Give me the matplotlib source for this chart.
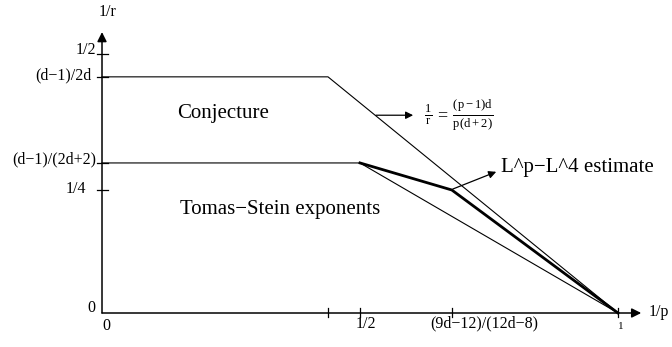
import matplotlib
matplotlib.use("Agg")
import matplotlib.pyplot as plt

plt.rcParams['font.family'] = ['Liberation Serif', 'DejaVu Serif']
plt.rcParams['mathtext.fontset'] = 'custom'
plt.rcParams['mathtext.rm'] = 'Liberation Serif'
plt.rcParams['mathtext.it'] = 'Liberation Serif'

# schematic positions (1/p on x, 1/r on y)
x_tick_pos = [0.438, 0.5, 0.678, 1.0]
x_tick_labels = ["", "1/2", "(9d−12)/(12d−8)", "1"]
y_tick_pos = [0.526, 0.480, 0.305, 0.25]
y_tick_labels = ["1/2", "(d−1)/2d", "(d−1)/(2d+2)", "1/4"]

conj_x = [0.0, 0.438, 1.0]
conj_y = [0.480, 0.480, 0.0]
ts_x = [0.0, 0.5, 1.0]
ts_y = [0.305, 0.305, 0.0]
est_x = [0.5, 0.678, 1.0]
est_y = [0.305, 0.25, 0.0]

fig = plt.figure(figsize=(6.72, 3.47), dpi=100)
ax = fig.add_axes([0, 0, 1, 1])
ax.set_xlim(-0.1977, 1.1047)
ax.set_ylim(-0.0691, 0.6362)
ax.axis('off')

k = 'black'
# axes with arrows
ax.annotate("", xy=(1.045, 0), xytext=(0, 0),
            arrowprops=dict(arrowstyle='-|>', color=k, lw=1.1, mutation_scale=14, shrinkA=0, shrinkB=0))
ax.annotate("", xy=(0, 0.571), xytext=(0, 0),
            arrowprops=dict(arrowstyle='-|>', color=k, lw=1.1, mutation_scale=14, shrinkA=0, shrinkB=0))

# x ticks
for xp, lab in zip(x_tick_pos, x_tick_labels):
    ax.plot([xp, xp], [-0.009, 0.010], color=k, lw=0.9)
ax.text(0.512, -0.022, "1/2", ha='center', va='center', fontsize=11.5)
ax.text(0.636, -0.022, "(9d−12)/(12d−8)", ha='left', va='center', fontsize=11.5)
ax.text(1.005, -0.027, "1", ha='center', va='center', fontsize=8)
ax.text(0.008, -0.026, "0", ha='center', va='center', fontsize=11.5)
ax.text(-0.012, 0.010, "0", ha='right', va='center', fontsize=11.5)
ax.text(1.060, 0.002, "1/p", ha='left', va='center', fontsize=11.5)
ax.text(0.010, 0.612, "1/r", ha='center', va='center', fontsize=11.5)

# y ticks
for yp in y_tick_pos:
    ax.plot([-0.010, 0.012], [yp, yp], color=k, lw=0.9)
ax.text(-0.012, 0.534, "1/2", ha='right', va='center', fontsize=11.5)
ax.text(-0.020, 0.482, "(d−1)/2d", ha='right', va='center', fontsize=11.5)
ax.text(-0.012, 0.313, "(d−1)/(2d+2)", ha='right', va='center', fontsize=11.5)
ax.text(-0.030, 0.252, "1/4", ha='right', va='center', fontsize=11.5)

# curves
ax.plot(conj_x, conj_y, color=k, lw=0.8)
ax.plot(ts_x, ts_y, color=k, lw=0.8)
ax.plot(est_x, est_y, color=k, lw=2.0, solid_joinstyle='miter')

# labels
ax.text(0.145, 0.405, "Conjecture", ha='left', va='center', fontsize=15)
ax.text(0.152, 0.210, "Tomas−Stein exponents", ha='left', va='center', fontsize=15)
ax.text(0.773, 0.295, "L^p−L^4 estimate", ha='left', va='center', fontsize=15)

ax.annotate("", xy=(0.603, 0.402), xytext=(0.531, 0.402),
            arrowprops=dict(arrowstyle='-|>', color=k, lw=0.9, mutation_scale=11, shrinkA=0, shrinkB=0))
ax.text(0.625, 0.402, r"$\frac{1}{\mathrm{r}}\,=\,\frac{\mathrm{(p-1)d}}{\mathrm{p(d+2)}}$",
        ha='left', va='center', fontsize=13)

ax.annotate("", xy=(0.764, 0.287), xytext=(0.680, 0.252),
            arrowprops=dict(arrowstyle='-|>', color=k, lw=0.9, mutation_scale=11, shrinkA=0, shrinkB=0))

fig.savefig("out.png", dpi=100)
